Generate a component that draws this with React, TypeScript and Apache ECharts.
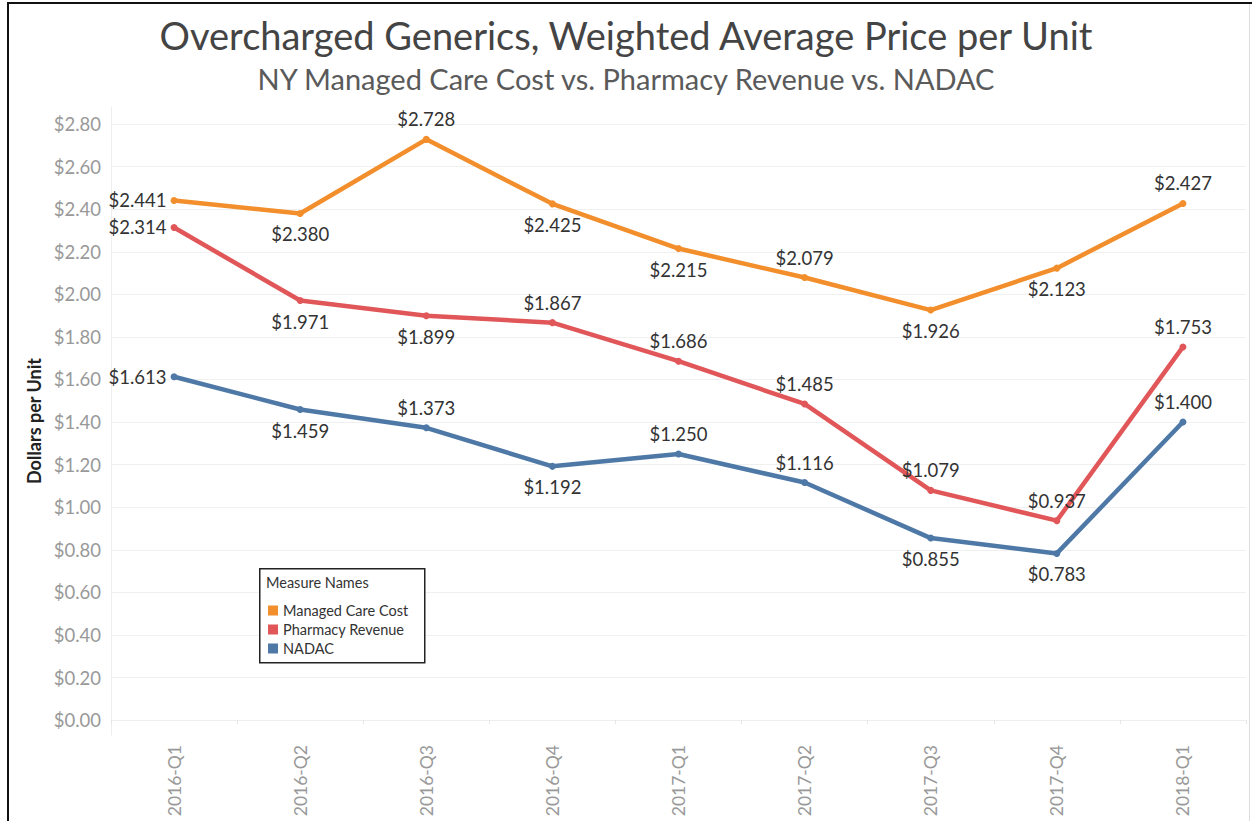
import React, { useEffect, useRef } from "react";
import * as echarts from "echarts";

const categories = ["2016-Q1", "2016-Q2", "2016-Q3", "2016-Q4", "2017-Q1", "2017-Q2", "2017-Q3", "2017-Q4", "2018-Q1"];
const managedCareCost = [2.441, 2.38, 2.728, 2.425, 2.215, 2.079, 1.926, 2.123, 2.427];
const pharmacyRevenue = [2.314, 1.971, 1.899, 1.867, 1.686, 1.485, 1.079, 0.937, 1.753];
const nadac = [1.613, 1.459, 1.373, 1.192, 1.25, 1.116, 0.855, 0.783, 1.4];
const yTicks = [0, 0.2, 0.4, 0.6, 0.8, 1.0, 1.2, 1.4, 1.6, 1.8, 2.0, 2.2, 2.4, 2.6, 2.8];

const managedPos = ["left", "bottom", "top", "bottom", "bottom", "top", "bottom", "bottom", "top"];
const pharmacyPos = ["left", "bottom", "bottom", "top", "top", "top", "top", "top", "top"];
const nadacPos = ["left", "bottom", "top", "bottom", "top", "top", "bottom", "bottom", "top"];

const FONT = "Lato, 'Open Sans', sans-serif";

function mkSeries(name: string, values: number[], pos: string[], color: string) {
  return {
    name,
    type: "line",
    data: values.map((v, i) => ({
      value: v,
      label: { position: pos[i], distance: pos[i] === "left" ? 4 : pos[i] === "bottom" ? 8 : 7 },
    })),
    lineStyle: { width: 4.5, color },
    itemStyle: { color },
    symbol: "circle",
    symbolSize: 7,
    label: {
      show: true,
      formatter: (p: any) => "$" + Number(p.value).toFixed(3),
      color: "#333",
      fontSize: 18.5,
      fontFamily: FONT,
    },
    z: 3,
  };
}

export default function App() {
  const ref = useRef<HTMLDivElement>(null);
  useEffect(() => {
    const chart = echarts.init(ref.current!, null, { renderer: "svg" });
    chart.setOption({
      animation: false,
      backgroundColor: "#fff",
      title: [
        {
          text: "Overcharged Generics, Weighted Average Price per Unit",
          left: "center",
          top: 11,
          textStyle: { fontFamily: FONT, fontSize: 38, fontWeight: "normal", color: "#444" },
        },
        {
          text: "NY Managed Care Cost vs. Pharmacy Revenue vs. NADAC",
          left: "center",
          top: 59,
          textStyle: { fontFamily: FONT, fontSize: 29, fontWeight: "normal", color: "#5a5a5a" },
        },
      ],
      grid: { left: 111, right: 6, top: 107, bottom: 86, containLabel: false },
      legend: {
        orient: "vertical",
        left: 263,
        top: 598,
        itemWidth: 10,
        itemHeight: 10,
        itemGap: 4,
        icon: "rect",
        textStyle: { fontFamily: FONT, fontSize: 14.5, color: "#333" },
        data: ["Managed Care Cost", "Pharmacy Revenue", "NADAC"],
        z: 20,
      },
      graphic: [
        {
          type: "rect",
          left: 259,
          top: 568,
          shape: { width: 165, height: 94 },
          style: { fill: "#fff", stroke: "#222", lineWidth: 1.5 },
          z: 1,
        },
        {
          type: "text",
          left: 266,
          top: 575,
          style: { text: "Measure Names", fontFamily: FONT, fontSize: 14.5, fill: "#333" },
          z: 2,
        },
      ],
      xAxis: {
        type: "category",
        data: categories,
        boundaryGap: true,
        axisLine: { show: true, lineStyle: { color: "#eee" } },
        axisTick: { show: true, lineStyle: { color: "#e6e6e6" }, length: 4 },
        axisLabel: { rotate: 90, color: "#999", fontSize: 17.5, fontFamily: FONT, margin: 10 },
        splitLine: { show: false },
      },
      yAxis: {
        type: "value",
        min: -0.07,
        max: 2.88,
        name: "Dollars per Unit",
        nameLocation: "middle",
        nameGap: 67,
        nameTextStyle: { fontFamily: FONT, fontSize: 18, fontWeight: "bold", color: "#222" },
        axisLine: { show: true, lineStyle: { color: "#eee" } },
        axisTick: { show: false, customValues: yTicks },
        axisLabel: {
          customValues: yTicks,
          color: "#999",
          fontSize: 18.5,
          fontFamily: FONT,
          margin: 10,
          formatter: (v: number) => "$" + v.toFixed(2),
        },
        splitLine: { show: true, lineStyle: { color: "#f0f0f0" } },
      },
      series: [
        mkSeries("Managed Care Cost", managedCareCost, managedPos, "#f28e2b"),
        mkSeries("Pharmacy Revenue", pharmacyRevenue, pharmacyPos, "#e15759"),
        mkSeries("NADAC", nadac, nadacPos, "#4e79a7"),
      ],
    });
    return () => chart.dispose();
  }, []);
  return (
    <div style={{ position: "absolute", left: 0, top: 0, width: 1252, height: 821, background: "#fff" }}>
      <div ref={ref} style={{ position: "absolute", left: 0, top: 0, width: 1252, height: 821 }} />
      <div style={{ position: "absolute", left: 7, top: 2, width: 2, height: 819, background: "#111" }} />
      <div style={{ position: "absolute", left: 7, top: 2, width: 1245, height: 2, background: "#111" }} />
      <div style={{ position: "absolute", left: 1249, top: 4, width: 1, height: 817, background: "#ddd" }} />
    </div>
  );
}
